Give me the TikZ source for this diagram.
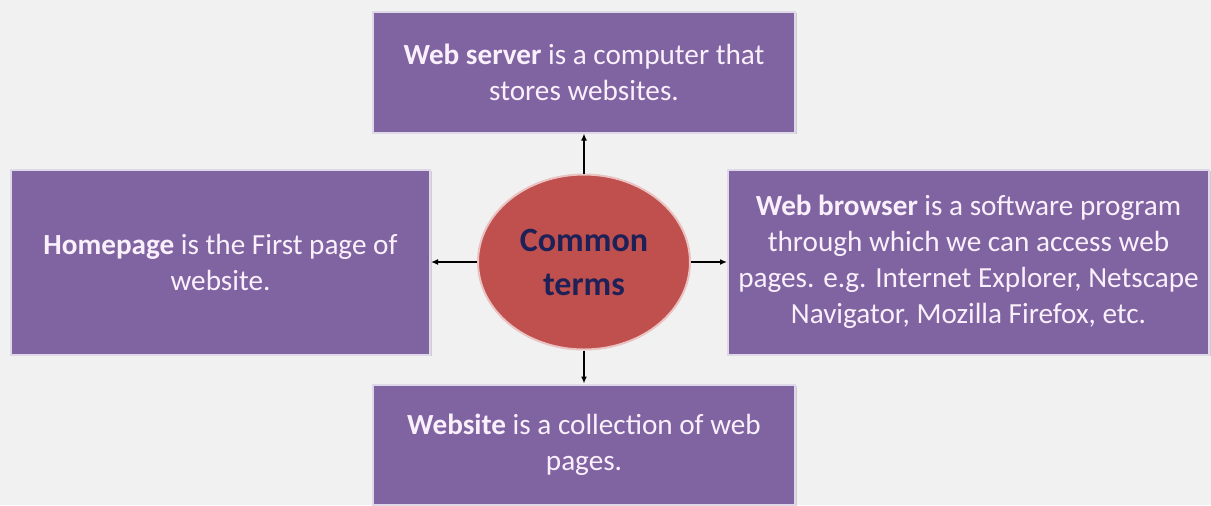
\documentclass[tikz,border=0pt]{standalone}
\usepackage{fontspec}
\setmainfont{Carlito}
\usepackage{xcolor}
\usetikzlibrary{arrows.meta,positioning,shapes.geometric,shadows}
\definecolor{termpurple}{RGB}{128,100,162}
\definecolor{termtext}{RGB}{250,240,252}
\definecolor{hubred}{RGB}{192,80,77}
\definecolor{hubtext}{RGB}{30,32,88}
\definecolor{pagebg}{RGB}{241,241,241}

\begin{document}
\begin{tikzpicture}[x=0.5pt, y=-0.5pt,
    term/.style={draw=white!75!termpurple, line width=1pt, fill=termpurple,
      text=termtext, font=\fontsize{14.6}{18}\selectfont, align=center,
      inner sep=0pt, drop shadow={shadow xshift=0.8pt, shadow yshift=-0.8pt,
      fill=black, opacity=0.15}},
    hub/.style={ellipse, draw=white!65!hubred, line width=1pt, fill=hubred,
      text=hubtext, font=\fontsize{17}{22}\selectfont\bfseries, align=center,
      minimum width=106pt, minimum height=87.5pt, inner sep=0pt},
    link/.style={-{Latex[length=3.5pt,width=3pt]}, line width=0.9pt}]
  \fill[pagebg] (0,0) rectangle (1211,505);
  \node[hub] (ct) at (584,262) {Common\\terms};
  \node[term, minimum width=211pt, minimum height=60.5pt, above=20pt of ct] (srv)
    {\textbf{Web server} is a computer that\\stores websites.};
  \node[term, minimum width=209.5pt, minimum height=92.5pt, left=23pt of ct] (home)
    {\textbf{Homepage} is the First page of\\website.};
  \node[term, minimum width=240.5pt, minimum height=92.5pt, right=18pt of ct] (brw)
    {\textbf{Web browser} is a software program\\through which we can access web\\pages. e.g. Internet Explorer, Netscape\\Navigator, Mozilla Firefox, etc.};
  \node[term, minimum width=211pt, minimum height=60pt, below=16.5pt of ct] (site)
    {\textbf{Website} is a collection of web\\pages.};
  \draw[link] (ct.north) -- (srv.south);
  \draw[link] (ct.west) -- (home.east);
  \draw[link] (ct.east) -- (brw.west);
  \draw[link] (ct.south) -- (site.north);
\end{tikzpicture}
\end{document}
